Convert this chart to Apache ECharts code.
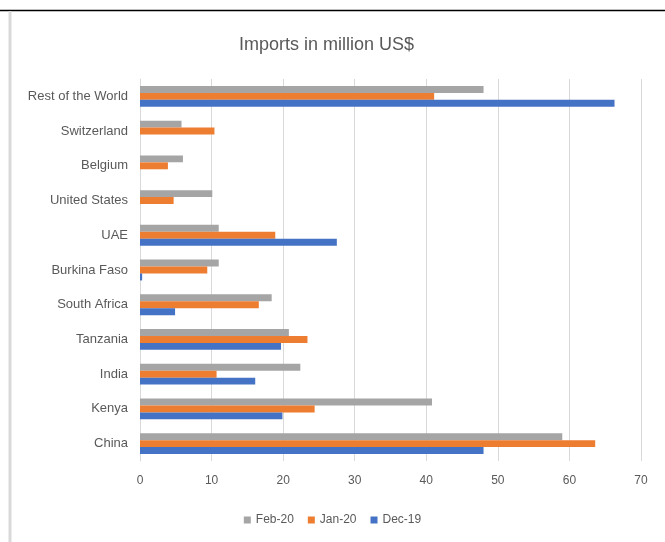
<!DOCTYPE html>
<html>
<head>
<meta charset="utf-8">
<script src="https://cdn.jsdelivr.net/npm/echarts@6/dist/echarts.min.js"></script>
<style>
  html, body { margin: 0; padding: 0; background: #fff; }
  #chart { width: 665px; height: 542px; }
</style>
</head>
<body>
<div id="chart"></div>
<script>
// categories bottom -> top (as drawn on the y axis)
var countries = ['China', 'Kenya', 'India', 'Tanzania', 'South Africa', 'Burkina Faso',
                 'UAE', 'United States', 'Belgium', 'Switzerland', 'Rest of the World'];
var dec19 = [48.0, 19.9, 16.1, 19.7, 4.9, 0.3, 27.5, 0, 0, 0, 66.3];
var jan20 = [63.6, 24.4, 10.7, 23.4, 16.6, 9.4, 18.9, 4.7, 3.9, 10.4, 41.1];
var feb20 = [59.0, 40.8, 22.4, 20.8, 18.4, 11.0, 11.0, 10.1, 6.0, 5.8, 48.0];
var xTicks = [0, 70, 10];   // min, max, interval

var chart = echarts.init(document.getElementById('chart'));
var font = '"Liberation Sans", Arial, sans-serif';

var option = {
    animation: false,
    textStyle: { fontFamily: font },
    title: {
        text: 'Imports in million US$',
        left: 234,
        top: 31,
        textStyle: { color: '#595959', fontSize: 18, fontWeight: 'normal', fontFamily: font }
    },
    legend: {
        bottom: 11,
        left: 'center',
        itemWidth: 7,
        itemHeight: 7,
        itemGap: 14,
        icon: 'rect',
        textStyle: { color: '#595959', fontSize: 12 },
        data: ['Feb-20', 'Jan-20', 'Dec-19']
    },
    grid: { left: 140, right: 24, top: 79, bottom: 81 },
    xAxis: {
        type: 'value',
        min: xTicks[0],
        max: xTicks[1],
        interval: xTicks[2],
        axisLine: { show: false },
        axisTick: { show: false },
        axisLabel: { color: '#595959', fontSize: 12, margin: 14 },
        splitLine: { lineStyle: { color: '#d9d9d9', width: 1 } }
    },
    yAxis: {
        type: 'category',
        data: countries,
        axisLine: { show: true, lineStyle: { color: '#d9d9d9' } },
        axisTick: { show: false },
        axisLabel: { color: '#595959', fontSize: 13, margin: 12 }
    },
    // first series is drawn at the top of each band
    series: [
        { name: 'Feb-20', type: 'bar', data: feb20, itemStyle: { color: '#A5A5A5' },
          barGap: '0%', barCategoryGap: '40%' },
        { name: 'Jan-20', type: 'bar', data: jan20, itemStyle: { color: '#ED7D31' } },
        { name: 'Dec-19', type: 'bar', data: dec19, itemStyle: { color: '#4472C4' } }
    ],
    graphic: [
        { type: 'line', shape: { x1: 0, y1: 10.5, x2: 665, y2: 10.5 },
          style: { stroke: '#000', lineWidth: 1.5 } },
        { type: 'line', shape: { x1: 10, y1: 11, x2: 10, y2: 542 },
          style: { stroke: '#d9d9d9', lineWidth: 3 } }
    ]
};
chart.setOption(option);
window.addEventListener('resize', chart.resize);
</script>
</body>
</html>
